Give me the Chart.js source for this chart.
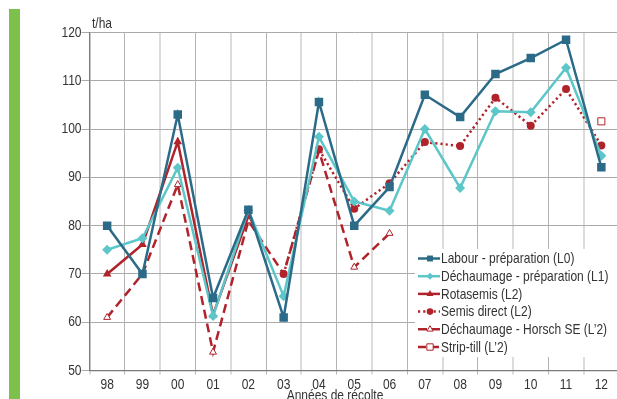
<!DOCTYPE html>
<html><head><meta charset="utf-8">
<script src="https://cdn.jsdelivr.net/npm/chart.js@4.4.1/dist/chart.umd.min.js"></script>
<style>
html,body{margin:0;padding:0;background:#fff;overflow:hidden;width:617px;height:399px;}
#wrap{position:relative;width:625px;height:399px;}
#bar{position:absolute;left:9px;top:9px;width:11px;height:390px;background:#7BC14B;}
canvas{position:absolute;left:0;top:0;}
</style></head><body>
<div id="wrap"><canvas id="c" width="625" height="399"></canvas><div id="bar"></div></div>
<script>
const years = ['98','99','00','01','02','03','04','05','06','07','08','09','10','11','12'];
const labour      = [80, 70, 103, 65, 83.3, 61, 105.6, 80, 88, 107.1, 102.5, 111.4, 114.7, 118.5, 92.1];
const dechPrep    = [75, 77.4, 92, 61.3, 83.2, 65.4, 98.4, 85, 83.1, 100, 87.8, 103.7, 103.5, 112.7, 94.5];
const rotasemis   = [70, 76.1, 97.4, 61.5, 82, null, null, null, null, null, null, null, null, null, null];
const semisDirect = [null, null, null, null, null, 70, 95.8, 83.5, 88.8, 97.3, 96.5, 106.5, 100.7, 108.3, 96.6];
const horsch      = [61, 70, 88.5, 53.8, 81, 70, 95.5, 71.4, 78.4, null, null, null, null, null, null];
const stripTill   = [null, null, null, null, null, null, null, null, null, null, null, null, null, null, 101.6];
const seriesNames = ['Labour - préparation (L0)', 'Déchaumage - préparation (L1)', 'Rotasemis (L2)', 'Semis direct (L2)', 'Déchaumage - Horsch SE (L’2)', 'Strip-till (L’2)'];
const yTicks = [50, 60, 70, 80, 90, 100, 110, 120];
const unitLabel = 't/ha';
const xTitle = 'Années de récolte';

const FONT = "'Liberation Sans', Arial, sans-serif";
const TEXT = '#333333';
const TEAL = '#2B6B88', CYAN = '#5CC6C8', RED = '#B0232B';
Chart.defaults.font.family = FONT;
Chart.defaults.color = TEXT;

// condensed text rendering (narrow face is not installed): squeeze glyphs horizontally around the anchor
const canvas = document.getElementById('c');
const ctx2d = canvas.getContext('2d');
const origFill = ctx2d.fillText.bind(ctx2d);
ctx2d.fillText = function (text, x, y, maxWidth) {
  this.save();
  this.translate(x, y);
  this.scale(0.8, 1);
  if (maxWidth !== undefined) origFill(text, 0, 0, maxWidth / 0.8); else origFill(text, 0, 0);
  this.restore();
};

const datasets = [
  {label: seriesNames[0], data: labour, borderColor: TEAL, backgroundColor: TEAL, borderWidth: 2.5,
   pointStyle: 'rect', pointRadius: 6, pointBorderWidth: 0, pointBackgroundColor: TEAL, lg:{r:4.2}},
  {label: seriesNames[1], data: dechPrep, borderColor: CYAN, backgroundColor: CYAN, borderWidth: 2.5,
   pointStyle: 'rectRot', pointRadius: 5, pointBorderWidth: 0, pointBackgroundColor: CYAN, lg:{r:3.5}},
  {label: seriesNames[2], data: rotasemis, borderColor: RED, backgroundColor: RED, borderWidth: 2.5,
   pointStyle: 'triangle', pointRadius: 5, pointBorderWidth: 0, pointBackgroundColor: RED, lg:{r:4}},
  {label: seriesNames[3], data: semisDirect, borderColor: RED, backgroundColor: RED, borderWidth: 2.5, borderDash: [2.2, 3],
   pointStyle: 'circle', pointRadius: 4, pointBorderWidth: 0, pointBackgroundColor: RED, lg:{r:3.3}},
  {label: seriesNames[4], data: horsch, borderColor: RED, backgroundColor: '#fff', borderWidth: 2.5, borderDash: [9, 5],
   pointStyle: 'triangle', pointRadius: 4, pointBorderWidth: 1, pointBorderColor: RED, pointBackgroundColor: '#fff', lg:{r:3.6}},
  {label: seriesNames[5], data: stripTill, borderColor: RED, backgroundColor: '#fff', borderWidth: 2.5, borderDash: [8, 5],
   pointStyle: 'rect', pointRadius: 5, pointBorderWidth: 1, pointBorderColor: RED, pointBackgroundColor: '#fff', lg:{r:4.5}}
];
datasets.forEach(d => { d.spanGaps = false; d.tension = 0; d.fill = false; });

const extras = {
  id: 'extras',
  afterDraw(chart) {
    const ctx = chart.ctx;
    ctx.save();
    ctx.fillStyle = TEXT;
    ctx.font = '15px ' + FONT;
    ctx.textAlign = 'left';
    ctx.textBaseline = 'alphabetic';
    ctx.fillText(unitLabel, 92, 28);
    ctx.textAlign = 'center';
    ctx.fillText(xTitle, 335, 400);
    // legend
    ctx.fillStyle = '#ffffff';
    ctx.fillRect(415, 249, 210, 108);
    chart.data.datasets.forEach((d, i) => {
      const y = 258.5 + i * 17.7;
      ctx.save();
      ctx.strokeStyle = d.borderColor;
      ctx.lineWidth = 2.5;
      ctx.setLineDash(d.borderDash || []);
      ctx.beginPath();
      ctx.moveTo(418, y);
      ctx.lineTo(440, y);
      ctx.stroke();
      ctx.restore();
      ctx.save();
      ctx.fillStyle = d.pointBackgroundColor;
      ctx.strokeStyle = d.pointBorderColor || d.borderColor;
      ctx.lineWidth = d.pointBorderWidth;
      Chart.helpers.drawPoint(ctx, {pointStyle: d.pointStyle, radius: d.lg.r, borderWidth: d.pointBorderWidth, rotation: 0}, 430, y);
      ctx.restore();
      ctx.fillStyle = TEXT;
      ctx.font = '15px ' + FONT;
      ctx.textAlign = 'left';
      ctx.textBaseline = 'middle';
      ctx.fillText(d.label, 441, y + 0.5);
    });
    ctx.restore();
  }
};

new Chart(ctx2d, {
  type: 'line',
  data: {labels: years, datasets},
  options: {
    responsive: false,
    animation: false,
    devicePixelRatio: 1,
    layout: {padding: {left: 0, right: 5, top: 32.5, bottom: 0}},
    plugins: {legend: {display: false}, tooltip: {enabled: false}, title: {display: false}},
    scales: {
      x: {
        offset: true,
        grid: {
          offset: true,
          color: c => (c.index % 2 === 1 ? '#B4B4B4' : '#DCDCDC'),
          lineWidth: c => (c.index % 2 === 1 ? 1 : 2),
          tickLength: 4,
          drawTicks: true
        },
        border: {display: true, color: '#7A7A7A', width: 1.2},
        ticks: {font: {size: 15}, color: TEXT, padding: 1, maxRotation: 0, autoSkip: false},
        afterFit: s => { s.height = 28.5; }
      },
      y: {
        min: 50, max: 120,
        afterBuildTicks: s => { s.ticks = yTicks.map(v => ({value: v})); },
        grid: {color: '#AAAAAA', lineWidth: 1, tickLength: 8},
        border: {display: true, color: '#7A7A7A', width: 1.2},
        ticks: {font: {size: 15}, color: TEXT, padding: 0},
        afterFit: s => { s.width = 89.5; }
      }
    }
  },
  plugins: [extras]
});
</script>
</body></html>
